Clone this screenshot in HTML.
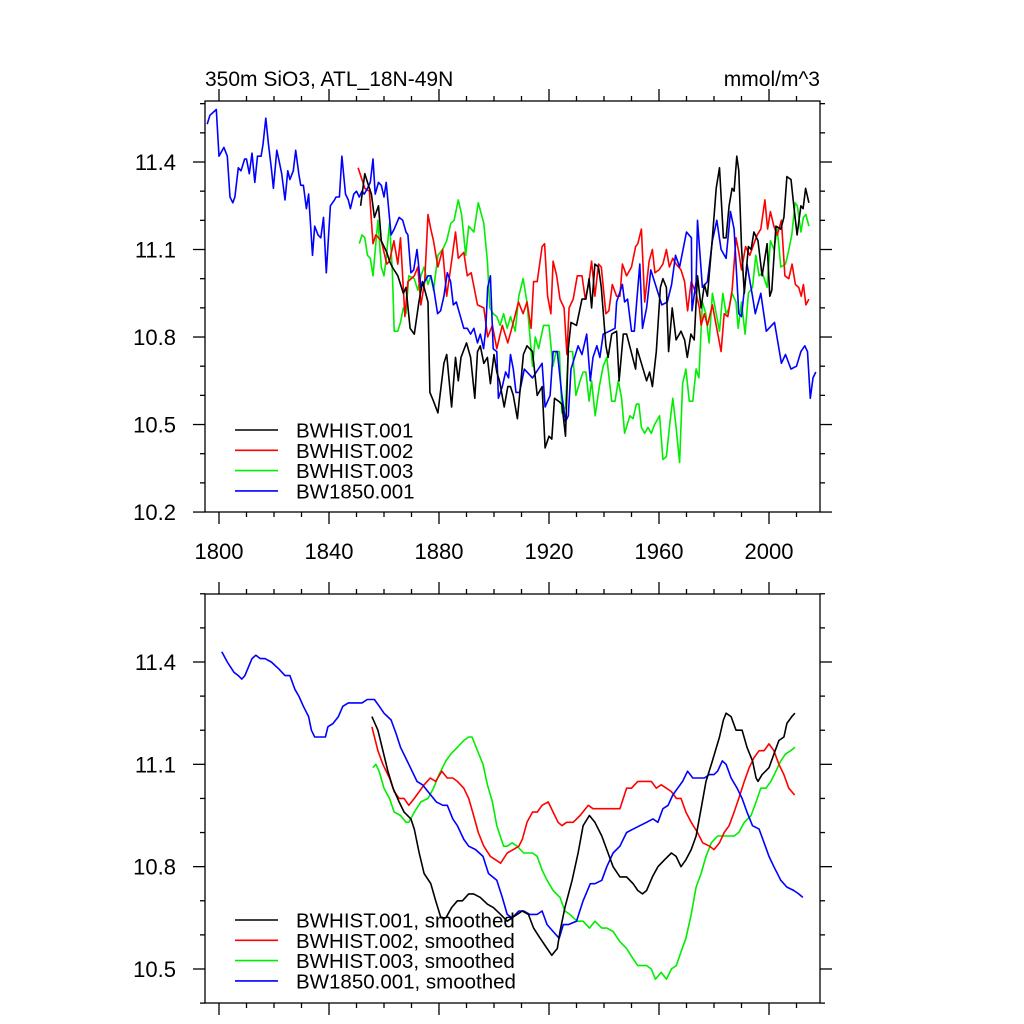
<!DOCTYPE html>
<html><head><meta charset="utf-8"><style>
html,body{margin:0;padding:0;background:#fff;}
svg{display:block;font-family:"Liberation Sans",Arial,sans-serif;}
</style></head><body>
<svg id="chart" width="1024" height="1024" viewBox="0 0 1024 1024" xmlns="http://www.w3.org/2000/svg">
<text x="205" y="86" font-size="21">350m SiO3, ATL_18N-49N</text>
<text x="820" y="86" font-size="21" text-anchor="end">mmol/m^3</text>
</svg>
<script>
// ---------- data (top panel: annual) ----------
const blueYears=[1795.7,1796.7,1799,1800,1801.8,1803,1804,1805,1805.8,1807,1808,1809.3,1810,1811,1812,1813,1814,1815.3,1816,1817,1818,1819,1819.8,1821,1821.7,1822.8,1824,1825,1825.8,1827,1827.9,1829,1829.7,1830.7,1831.8,1832.6,1834,1834.8,1836,1837,1838,1839,1840.5,1842,1842.6,1843.8,1844.7,1846,1847,1847.8,1849,1850,1851,1852,1852.8,1854,1855,1856,1856.8,1858,1859,1860,1860.8,1862.6,1863.7,1865.5,1866.8,1868,1868.7,1869.8,1870.8,1872,1873.4,1874.8,1876,1877,1878,1879.5,1880.6,1881.8,1883,1884.2,1885.2,1886.3,1887.5,1889,1890.3,1891.5,1892.7,1894,1895,1896.2,1897,1897.7,1898.7,1899.7,1901,1901.6,1903,1904.2,1905.3,1906,1907,1908,1909.3,1911,1914,1917.5,1918.6,1920.4,1921.5,1923,1924.7,1926,1927,1928,1930.6,1932,1933.7,1935,1936,1937.4,1938.5,1939.7,1942,1944,1944.6,1946.7,1947.5,1948.6,1950,1951,1953,1954,1955.5,1957,1959,1961,1963,1964.6,1966,1967.5,1970,1971.8,1972,1973.5,1974,1975.8,1977.6,1979.4,1981,1982.6,1984.4,1986,1987.3,1989,1990,1992,1994,1995,1997,1999,2002,2004.5,2006,2008,2010,2011.6,2013,2014,2015,2016,2017];
const blueVals=[11.53,11.56,11.58,11.42,11.45,11.42,11.28,11.26,11.28,11.38,11.37,11.41,11.41,11.36,11.43,11.33,11.42,11.42,11.46,11.55,11.46,11.38,11.31,11.44,11.41,11.36,11.27,11.37,11.34,11.37,11.44,11.36,11.32,11.32,11.24,11.29,11.08,11.18,11.15,11.14,11.21,11.02,11.25,11.27,11.28,11.28,11.42,11.29,11.27,11.24,11.29,11.30,11.28,11.30,11.29,11.31,11.33,11.41,11.29,11.33,11.32,11.28,11.33,11.15,11.17,11.21,11.20,11.16,11.15,11.02,11.03,11.10,10.97,10.99,11.01,11.01,10.97,10.88,10.89,10.94,11.02,10.99,10.91,10.92,10.88,10.83,10.83,10.81,10.83,10.78,10.81,10.76,10.83,10.97,11.01,10.76,10.75,10.59,10.63,10.68,10.66,10.74,10.69,10.61,10.61,10.69,10.66,10.71,10.56,10.60,10.75,10.75,10.60,10.51,10.53,10.69,10.77,10.74,10.81,10.65,10.73,10.77,10.73,10.81,10.82,10.83,10.92,10.98,10.92,10.93,10.82,10.82,11.05,10.83,10.90,11.03,10.97,10.91,10.92,10.98,11.08,11.04,11.16,11.14,10.89,10.99,11.20,10.97,10.99,11.13,11.20,11.10,11.07,11.23,11.17,10.88,10.87,11.05,10.94,10.88,10.95,10.82,10.85,10.71,10.74,10.69,10.70,10.75,10.77,10.75,10.59,10.66,10.68];

const blackYears=[1851.5,1853,1854,1855.4,1856.5,1858,1859,1861,1862,1863,1865,1867,1868,1869.5,1871,1872.7,1874,1876,1876.7,1878,1879.6,1881.8,1882.8,1884.6,1886,1887,1888,1890,1891.5,1893,1894,1895,1896.3,1897.6,1898.7,1900,1901,1902,1903.7,1905,1906,1907,1908.5,1910.7,1912,1914,1915.7,1917.5,1918.6,1920,1921,1922,1923.5,1924.7,1926,1927,1928,1930,1932,1933.4,1934.6,1935.5,1936.7,1938,1939,1940.7,1941.5,1942.8,1944.6,1945.5,1947,1948.2,1949.6,1951.5,1952,1953.6,1955.5,1956.6,1957.6,1959,1960.5,1961.4,1962.7,1963.5,1964.8,1966.2,1968,1969.3,1970.3,1971.6,1972.8,1974,1975.3,1976.5,1977.6,1979.4,1980.8,1982,1983.4,1984.4,1985.5,1986.6,1987.3,1988.3,1989,1990,1991,1992.5,1993.5,1994.5,1996,1997.5,1999.3,2000.3,2001,2002.5,2004.3,2005.4,2006.5,2008,2009,2010.2,2011.6,2012.4,2013.3,2014.5];
const blackVals=[11.25,11.36,11.33,11.29,11.21,11.25,11.13,11.09,11.06,11.04,11.01,10.95,10.97,10.83,10.81,10.92,10.99,10.92,10.61,10.58,10.54,10.71,10.74,10.56,10.73,10.65,10.73,10.78,10.73,10.59,10.75,10.77,10.71,10.73,10.64,10.74,10.68,10.65,10.56,10.63,10.63,10.60,10.52,10.74,10.77,10.75,10.60,10.63,10.42,10.46,10.45,10.59,10.58,10.57,10.46,10.76,10.85,10.84,10.93,10.93,11.00,10.90,11.05,11.04,10.97,10.77,10.73,10.81,10.82,10.65,10.81,10.81,10.76,10.69,10.76,10.71,10.65,10.68,10.63,10.75,10.97,11.00,10.97,10.75,10.90,10.79,10.82,10.79,10.73,10.81,10.79,11.01,10.90,10.98,10.94,11.14,11.31,11.38,11.14,11.14,11.25,11.31,11.30,11.42,11.37,11.11,10.95,11.11,11.10,11.16,11.13,11.01,11.12,10.94,10.96,11.18,11.17,11.21,11.35,11.34,11.25,11.15,11.25,11.24,11.31,11.26];

const redYears=[1850.6,1853,1854.7,1856,1857,1859,1861,1862,1863.6,1865,1866,1867.6,1868.7,1871,1872.3,1873.4,1874.8,1876,1877,1878,1879.6,1881.3,1882.8,1884.6,1886,1887,1889,1890.3,1891.7,1894,1896.3,1897.7,1899.4,1901,1903,1905,1907,1908.9,1910.6,1912,1913.5,1914.4,1915.7,1917.5,1918.4,1919.5,1920.7,1921.5,1922.8,1924,1925.5,1926.5,1927.3,1928.8,1930.3,1932,1933.2,1934.4,1935.5,1936.7,1938,1939,1940.7,1941.8,1943,1944.6,1945.8,1946.7,1948.2,1950,1951.5,1952.3,1953.6,1954.8,1956.4,1957.6,1958.5,1960,1961.4,1962.7,1963.8,1965,1966.2,1968,1969.3,1970.4,1971.7,1973.5,1974.7,1975.3,1976.5,1977.6,1979.4,1980.8,1982.6,1983.7,1985,1986.6,1988,1989,1990,1991.5,1993,1994.5,1995.7,1997,1998.5,1999.5,2000.5,2001.8,2003,2004.5,2005.8,2007.2,2008.4,2009.6,2010.8,2011.7,2012.5,2013.4,2014.5];
const redVals=[11.38,11.31,11.30,11.12,11.15,11.13,11.05,11.06,11.13,11.05,11.14,10.87,10.99,11.01,11.04,10.91,10.99,11.22,11.17,11.13,11.04,11.10,10.94,11.06,11.16,11.07,11.09,11.01,11.02,10.91,10.90,10.80,10.84,10.76,10.84,10.78,10.85,10.92,10.88,10.92,10.83,10.99,10.99,11.11,11.12,10.94,10.88,11.06,11.01,10.93,10.90,10.74,10.90,10.93,11.01,11.01,10.93,10.98,11.06,10.94,11.05,11.04,10.88,10.89,10.98,10.94,10.94,11.05,11.01,11.04,11.11,11.12,11.17,10.92,11.06,11.10,11.02,11.03,11.05,11.10,11.04,11.07,11.05,11.03,10.99,10.89,10.99,10.95,10.90,10.84,10.88,10.84,10.91,10.84,10.75,10.88,10.87,10.96,11.14,11.09,11.03,11.11,11.08,11.12,11.15,11.17,11.27,11.17,11.23,11.18,11.15,11.20,11.01,11.00,11.05,10.98,10.97,10.94,10.98,10.91,10.93];

const greenYears=[1851,1852,1853,1854,1855,1856,1857,1857.8,1859,1860,1860.8,1862,1863,1863.7,1865,1866,1867,1868,1869,1871,1872.3,1873.4,1874.6,1876,1877,1878,1879.6,1881.3,1882.8,1884.3,1885.5,1887,1888.2,1889.7,1890.8,1892.7,1894.3,1896.3,1897.6,1898.5,1899.7,1901,1902.2,1903.5,1904.8,1906,1907.7,1909,1910.6,1912,1914,1915,1916.2,1918,1920,1921.4,1922.6,1923.8,1924.7,1926,1927,1928.6,1929.8,1931.3,1932.4,1933.4,1934.6,1935.5,1936.8,1938.3,1939.7,1941,1942.8,1944,1945.2,1946.4,1947.5,1949.4,1950.6,1951.8,1952.7,1953.6,1954.8,1956,1957.2,1958.4,1960.2,1961.4,1962.7,1963.9,1965,1966.2,1967.5,1968.6,1969.8,1971,1972.3,1973.5,1974.5,1975.8,1977,1978.2,1979.4,1980.8,1982,1983.2,1984.4,1985.5,1986.6,1988,1988.8,1990,1991.3,1992.5,1994,1995.2,1996.4,1997.6,1999.3,2000.5,2001.8,2003,2004.3,2006,2007,2008.3,2009.5,2010.3,2011.6,2012.5,2013.4,2014.5];
const greenVals=[11.12,11.15,11.14,11.08,11.07,11.01,11.12,11.20,11.04,11.01,11.07,11.19,11.03,10.82,10.82,10.85,10.90,10.88,11.01,11.00,10.96,11.01,11.04,10.98,11.01,10.96,11.08,11.10,11.13,11.19,11.20,11.27,11.22,11.08,11.18,11.16,11.26,11.19,11.06,10.90,10.88,10.87,10.84,10.88,10.83,10.87,10.82,10.94,11.00,10.92,10.70,10.80,10.76,10.84,10.84,10.70,10.75,10.75,10.54,10.56,10.75,10.75,10.60,10.65,10.68,10.68,10.58,10.65,10.53,10.63,10.70,10.73,10.58,10.58,10.65,10.59,10.47,10.53,10.52,10.57,10.57,10.49,10.47,10.49,10.47,10.50,10.53,10.38,10.39,10.50,10.59,10.49,10.37,10.64,10.69,10.58,10.58,10.69,10.66,10.92,10.88,10.78,10.95,10.88,10.82,10.95,10.88,10.90,10.95,10.92,10.83,10.92,10.81,10.95,10.97,11.08,11.01,11.02,10.97,11.13,11.10,11.17,11.04,11.05,11.09,11.15,11.26,11.25,11.16,11.21,11.22,11.18];

// ---------- data (bottom panel: smoothed) ----------
const sBlueYears=[1801,1803,1805.4,1807,1808.3,1809.4,1812,1813.4,1815,1816.7,1819,1821.7,1824,1825.8,1827.6,1829,1830.7,1832.6,1833.6,1834.8,1837,1838.7,1839.6,1841.5,1843.4,1845,1847,1850.6,1852,1853.9,1856.5,1858.3,1860,1862.6,1864.4,1866,1869,1872,1874,1876,1879,1881.4,1883,1885,1886.7,1889,1890.8,1893.3,1896,1898,1901,1903,1904.8,1906.6,1909,1910.8,1913,1915.7,1917.5,1919.3,1921.5,1923.7,1925.2,1927,1930,1932.4,1935,1936.7,1939.2,1941,1943.3,1945.8,1948.2,1950.6,1953,1955.5,1957.8,1959.6,1961.4,1963.3,1965,1966.8,1968.6,1970.4,1972.3,1974.7,1976.5,1978.3,1980,1981.3,1983,1984.4,1986.2,1988.4,1990.2,1992,1994,1996.4,1998.2,2000,2001.8,2004.3,2006.5,2009,2010.8,2012.3];
const sBlueVals=[11.43,11.40,11.37,11.36,11.35,11.36,11.41,11.42,11.41,11.41,11.40,11.38,11.36,11.36,11.32,11.30,11.27,11.24,11.20,11.18,11.18,11.18,11.21,11.22,11.24,11.27,11.28,11.28,11.28,11.29,11.29,11.27,11.25,11.23,11.19,11.15,11.10,11.05,11.04,11.02,10.99,10.98,10.98,10.94,10.92,10.88,10.86,10.85,10.83,10.78,10.76,10.71,10.66,10.65,10.67,10.67,10.66,10.66,10.67,10.63,10.61,10.59,10.63,10.63,10.64,10.70,10.75,10.75,10.76,10.80,10.84,10.86,10.90,10.91,10.92,10.93,10.94,10.93,10.97,10.98,11.01,11.03,11.05,11.08,11.06,11.06,11.06,11.07,11.07,11.08,11.11,11.10,11.06,11.03,11.00,10.96,10.92,10.91,10.87,10.83,10.80,10.76,10.74,10.73,10.72,10.71];

const sBlackYears=[1855.6,1857.8,1859.6,1861.4,1863.3,1865.5,1867.3,1869.8,1871,1872.8,1874.6,1877,1878.8,1880.7,1882.5,1884.6,1886.7,1888.5,1890.8,1892.6,1895,1897.6,1899.8,1902.4,1904.8,1906.5,1908.4,1910.3,1912.5,1914.4,1916.8,1919.3,1921,1923,1924,1925.8,1928.4,1930.6,1932.4,1934.7,1936.7,1939.2,1941,1943.3,1945.8,1948.2,1950.6,1952.3,1954,1955.5,1957.6,1959.6,1962,1964.5,1966.2,1968,1969.8,1971.7,1973.5,1975.3,1977.1,1979.4,1982,1983.4,1984.4,1986.2,1988,1990.2,1992,1994,1995.3,1996,1997.5,2000,2001.8,2003.6,2005.4,2006.5,2008.3,2009.4];
const sBlackVals=[11.24,11.20,11.14,11.08,11.03,10.99,10.96,10.94,10.91,10.84,10.78,10.75,10.70,10.65,10.65,10.68,10.70,10.70,10.72,10.72,10.71,10.69,10.68,10.66,10.64,10.65,10.66,10.67,10.66,10.62,10.59,10.56,10.54,10.56,10.61,10.68,10.76,10.84,10.92,10.95,10.93,10.89,10.85,10.80,10.77,10.77,10.75,10.73,10.72,10.73,10.77,10.80,10.82,10.84,10.83,10.80,10.82,10.85,10.89,10.97,11.05,11.11,11.18,11.23,11.25,11.24,11.20,11.20,11.15,11.11,11.06,11.05,11.07,11.09,11.13,11.17,11.18,11.22,11.24,11.25];

const sRedYears=[1855.6,1857.8,1859.6,1862,1863.7,1865.5,1867.3,1869,1871,1872.8,1874.6,1876.8,1878.8,1881,1883,1885,1886.7,1889,1890.8,1892.6,1894.3,1896.3,1898.7,1900.6,1902.4,1904.8,1907,1909,1910.3,1912,1914,1915.7,1917.5,1919.7,1921.5,1923.3,1924.7,1926.4,1928.8,1931.3,1934.3,1936,1938.5,1941,1943.3,1945.8,1948.2,1950,1952.3,1955.5,1957.2,1959,1960.8,1962.7,1964.5,1966.3,1968,1969.8,1971.7,1974,1975.9,1978.4,1980,1982,1983.7,1985.5,1987.3,1989,1991,1992.8,1994.6,1996.4,1998.2,2000,2001.8,2003.6,2005.4,2007.2,2009.3];
const sRedVals=[11.21,11.14,11.10,11.06,11.02,11.00,11.00,10.98,11.00,11.02,11.04,11.06,11.05,11.08,11.06,11.06,11.05,11.03,11.00,10.95,10.90,10.86,10.83,10.82,10.81,10.84,10.85,10.86,10.88,10.93,10.96,10.96,10.98,10.99,10.96,10.93,10.92,10.93,10.93,10.95,10.98,10.97,10.97,10.97,10.97,10.97,11.03,11.03,11.05,11.05,11.05,11.03,11.04,11.03,11.02,11.00,11.00,10.96,10.93,10.90,10.87,10.86,10.85,10.87,10.90,10.92,10.96,11.00,11.05,11.09,11.12,11.14,11.14,11.16,11.14,11.10,11.07,11.03,11.01];

const sGreenYears=[1856,1857,1858.2,1860,1862,1863.7,1866,1868,1869,1871,1873.4,1876,1878,1880,1882.5,1884.3,1886.7,1889,1890.8,1892,1894,1896,1897.6,1899.4,1901,1903.5,1904.8,1906.6,1908.4,1910.8,1914,1915.7,1917.5,1919.3,1921.5,1924,1925.8,1927.6,1930.2,1932.4,1934.7,1936.7,1939.2,1941,1943.3,1945.8,1948.2,1950.6,1952.3,1955.5,1957.2,1958.7,1960.8,1962.7,1964.5,1966.3,1968,1969.8,1971.7,1973.5,1975.3,1977.1,1979,1981.3,1983.7,1985.5,1987.3,1989,1991,1993.5,1995.3,1997,1998.9,2000.7,2002.5,2004.3,2006,2007.9,2009.4];
const sGreenVals=[11.09,11.10,11.08,11.03,11.00,10.96,10.95,10.93,10.93,10.96,10.99,11.00,11.03,11.07,11.11,11.13,11.15,11.17,11.18,11.18,11.14,11.10,11.04,10.99,10.92,10.86,10.86,10.87,10.86,10.84,10.84,10.83,10.79,10.76,10.73,10.71,10.67,10.66,10.64,10.64,10.62,10.64,10.62,10.62,10.61,10.58,10.56,10.53,10.51,10.51,10.50,10.47,10.49,10.47,10.50,10.51,10.55,10.59,10.66,10.74,10.78,10.83,10.87,10.89,10.89,10.89,10.89,10.90,10.93,10.95,10.99,11.03,11.03,11.05,11.08,11.11,11.13,11.14,11.15];

const xTickLabels=["1800","1840","1880","1920","1960","2000"];
const topYTickLabels=["10.2","10.5","10.8","11.1","11.4"];
const botYTickLabels=["10.5","10.8","11.1","11.4"];
const legendTop=["BWHIST.001","BWHIST.002","BWHIST.003","BW1850.001"];
const legendBot=["BWHIST.001, smoothed","BWHIST.002, smoothed","BWHIST.003, smoothed","BW1850.001, smoothed"];

// ---------- drawing ----------
const NS="http://www.w3.org/2000/svg";
const svg=document.getElementById('chart');
const L=205,R=820,X0YEAR=1800,XPX=2.75,X0=219;
const xs=yr=>X0+(yr-X0YEAR)*XPX;
const panels=[
 {top:101,bot:512,y0:162,ppu:291.7,ymin:10.2,ymax:11.6,name:'top'},
 {top:594,bot:1003,y0:662,ppu:341.1,ymin:10.4,ymax:11.6,name:'bottom'}
];
function mk(tag,attrs,parent){const e=document.createElementNS(NS,tag);for(const k in attrs)e.setAttribute(k,attrs[k]);(parent||svg).appendChild(e);return e;}
const colors=["#000000","#ff0000","#00ee00","#0000ff"];

panels.forEach((p,pi)=>{
  const ys=v=>p.y0+(11.4-v)*p.ppu;
  p.ys=ys;
  const g=mk('g',{});
  
  
  for(let yr=1800;yr<=2010;yr+=10){
    const x=xs(yr); if(x<L||x>R) continue;
    const major=(yr%40===0);
    const len=major?12:5;
    const t1=mk('line',{x1:x,x2:x,y1:p.bot,y2:p.bot+len,stroke:'#000','stroke-width':1.3},g);
    
    
    const t2=mk('line',{x1:x,x2:x,y1:p.top,y2:p.top-len,stroke:'#000','stroke-width':1.3},g);
    
    
  }
  for(let k=Math.round(p.ymin*10);k<=Math.round(p.ymax*10);k++){
    const v=k/10; const y=ys(v); if(y<p.top-0.5||y>p.bot+0.5) continue;
    const major=(k%3===0);
    const len=major?12:5;
    const a=mk('line',{x1:L,x2:L-len,y1:y,y2:y,stroke:'#000','stroke-width':1.3},g);
    
    
    const b=mk('line',{x1:R,x2:R+len,y1:y,y2:y,stroke:'#000','stroke-width':1.3},g);
    
    
  }
  const labels=pi===0?topYTickLabels:botYTickLabels;
  labels.forEach(s=>{
    const t=mk('text',{x:176,y:ys(parseFloat(s))+8,'font-size':22,'text-anchor':'end'},g);
    t.textContent=s;
    
    
  });
  if(pi===0){
    xTickLabels.forEach(s=>{
      const t=mk('text',{x:xs(parseFloat(s)),y:559,'font-size':22,'text-anchor':'middle'},g);
      t.textContent=s;
      
      
    });
  }
  const frame=mk('rect',{x:L,y:p.top,width:R-L,height:p.bot-p.top,fill:'none',stroke:'#000','stroke-width':1.3},g);
  
  
});

function series(pi,years,vals,color,name){
  const p=panels[pi];
  const d=years.map((yr,i)=>(i?'L':'M')+xs(yr).toFixed(1)+' '+p.ys(vals[i]).toFixed(1)).join(' ');
  const path=mk('path',{d:d,fill:'none',stroke:color,'stroke-width':1.6,'stroke-linejoin':'round'});
  
  
}
series(0,greenYears,greenVals,colors[2],'series-bwhist-003');
series(0,redYears,redVals,colors[1],'series-bwhist-002');
series(0,blueYears,blueVals,colors[3],'series-bw1850-001');
series(0,blackYears,blackVals,colors[0],'series-bwhist-001');
series(1,sGreenYears,sGreenVals,colors[2],'series-bwhist-003-smoothed');
series(1,sRedYears,sRedVals,colors[1],'series-bwhist-002-smoothed');
series(1,sBlueYears,sBlueVals,colors[3],'series-bw1850-001-smoothed');
series(1,sBlackYears,sBlackVals,colors[0],'series-bwhist-001-smoothed');

function legend(labels,y0,name){
  labels.forEach((s,i)=>{
    const y=y0+i*20.3;
    const ln=mk('line',{x1:235,x2:278,y1:y,y2:y,stroke:colors[i],'stroke-width':1.6});
    
    
    const t=mk('text',{x:296,y:y+7.5,'font-size':20.5});
    t.textContent=s;
    
    
  });
}
legend(legendTop,430,'legend');
legend(legendBot,920,'legend-smoothed');
</script>
</body></html>
